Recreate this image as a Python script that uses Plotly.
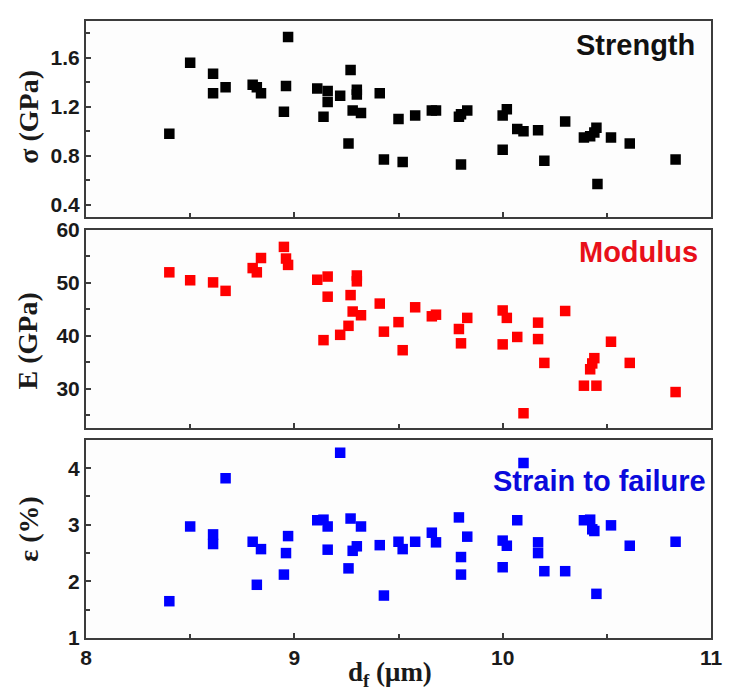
import plotly.graph_objects as go

# ---------------- data ----------------
strength_x = [8.40, 8.50, 8.61, 8.61, 8.67, 8.80, 8.82, 8.84, 8.95, 8.96, 8.97,
              9.11, 9.14, 9.16, 9.16, 9.22, 9.26, 9.27, 9.28, 9.30, 9.30, 9.32,
              9.41, 9.43, 9.50, 9.52, 9.58, 9.66, 9.68, 9.79, 9.80, 9.80, 9.83,
              10.00, 10.00, 10.02, 10.07, 10.10, 10.17, 10.20, 10.30, 10.39,
              10.42, 10.44, 10.45, 10.455, 10.52, 10.61, 10.83]
strength_y = [0.98, 1.56, 1.47, 1.31, 1.36, 1.38, 1.36, 1.31, 1.16, 1.37, 1.77,
              1.35, 1.12, 1.33, 1.24, 1.29, 0.90, 1.50, 1.17, 1.34, 1.30, 1.15,
              1.31, 0.77, 1.10, 0.75, 1.13, 1.17, 1.17, 1.12, 0.73, 1.14, 1.17,
              0.85, 1.13, 1.18, 1.02, 1.00, 1.01, 0.76, 1.08, 0.95,
              0.96, 0.99, 1.03, 0.57, 0.95, 0.90, 0.77]

modulus_x = [8.40, 8.50, 8.61, 8.67, 8.80, 8.82, 8.84, 8.95, 8.96, 8.97,
             9.11, 9.14, 9.16, 9.16, 9.22, 9.26, 9.27, 9.28, 9.30, 9.30, 9.32,
             9.41, 9.43, 9.50, 9.52, 9.58, 9.66, 9.68, 9.79, 9.80, 9.83,
             10.00, 10.00, 10.02, 10.07, 10.10, 10.17, 10.17, 10.20, 10.30,
             10.39, 10.42, 10.43, 10.44, 10.45, 10.52, 10.61, 10.83]
modulus_y = [52.0, 50.5, 50.1, 48.5, 52.8, 52.0, 54.7, 56.8, 54.6, 53.4,
             50.6, 39.2, 51.2, 47.4, 40.2, 41.9, 47.7, 44.6, 51.4, 50.3, 43.9,
             46.1, 40.8, 42.6, 37.3, 45.4, 43.7, 44.0, 41.3, 38.6, 43.4,
             44.8, 38.4, 43.4, 39.8, 25.4, 42.5, 39.4, 34.9, 44.7,
             30.6, 33.7, 34.8, 35.8, 30.6, 38.9, 34.9, 29.4]

strain_x = [8.40, 8.50, 8.61, 8.61, 8.67, 8.80, 8.82, 8.84, 8.95, 8.96, 8.97,
            9.11, 9.14, 9.16, 9.16, 9.22, 9.26, 9.27, 9.28, 9.30, 9.32,
            9.41, 9.43, 9.50, 9.52, 9.58, 9.66, 9.68, 9.79, 9.80, 9.80, 9.83,
            10.00, 10.00, 10.02, 10.07, 10.10, 10.17, 10.17, 10.20, 10.30,
            10.39, 10.42, 10.43, 10.44, 10.45, 10.52, 10.61, 10.83]
strain_y = [1.65, 2.97, 2.83, 2.66, 3.82, 2.70, 1.94, 2.57, 2.12, 2.50, 2.80,
            3.08, 3.09, 2.97, 2.56, 4.27, 2.23, 3.11, 2.54, 2.62, 2.97,
            2.64, 1.75, 2.70, 2.57, 2.70, 2.86, 2.69, 3.13, 2.43, 2.12, 2.79,
            2.72, 2.25, 2.63, 3.08, 4.09, 2.50, 2.69, 2.18, 2.18,
            3.08, 3.09, 2.92, 2.89, 1.78, 2.99, 2.63, 2.70]

x_ticks = [8, 9, 10, 11]
labels = ["Strength", "Modulus", "Strain to failure"]
y_titles = ["σ (GPa)", "E (GPa)", "ε (%)"]
colors = ["#000000", "#ff0000", "#0000ff"]
text_colors = ["#111111", "#e8101a", "#0a0adc"]

# ---------------- figure ----------------
W, H = 731, 696
ml, mr, mt, mb = 86, 13, 9, 58
pw, ph = W - ml - mr, H - mt - mb


def py(pix):
    return (H - mb - pix) / ph


def px(pix):
    return (pix - ml) / pw


fig = go.Figure()
series = [(strength_x, strength_y), (modulus_x, modulus_y), (strain_x, strain_y)]
for i, (xs, ys) in enumerate(series):
    fig.add_trace(go.Scatter(
        x=xs, y=ys, mode="markers",
        marker=dict(symbol="square", size=10.5, color=colors[i], line=dict(width=0)),
        xaxis="x" if i == 0 else f"x{i+1}",
        yaxis="y" if i == 0 else f"y{i+1}",
        showlegend=False,
    ))

frame = "#3c3c3c"
tickfont = dict(family="Arial, Liberation Sans", size=21, color="#1a1a1a", weight="bold")

domains_y = [[py(209), py(9)], [py(424), py(222)], [py(638), py(436)]]
yranges = [[0.3, 1.9], [22.6, 60], [1, 4.5]]
ytick0 = [0.4, 30, 1]
ydtick = [0.4, 10, 1]
yminor = [0.2, 5, 0.5]
yfmt = [".1f", "d", "d"]

layout = dict(
    width=W, height=H,
    margin=dict(l=ml, r=mr, t=mt, b=mb),
    paper_bgcolor="white", plot_bgcolor="#fdfdfd",
)
for i in range(3):
    xa = "xaxis" if i == 0 else f"xaxis{i+1}"
    ya = "yaxis" if i == 0 else f"yaxis{i+1}"
    yid = "y" if i == 0 else f"y{i+1}"
    xid = "x" if i == 0 else f"x{i+1}"
    layout[xa] = dict(
        domain=[0, 1], anchor=yid, range=[8, 11],
        tickvals=x_ticks, ticks="inside", ticklen=5, tickwidth=1.5, tickcolor=frame,
        minor=dict(dtick=0.5, tick0=8, ticks="inside", ticklen=4, tickcolor=frame),
        showline=True, linecolor=frame, linewidth=2, mirror=True,
        showgrid=False, zeroline=False,
        showticklabels=(i == 2), tickfont=tickfont,
    )
    if i < 2:
        layout[xa]["matches"] = "x3"
    layout[ya] = dict(
        domain=domains_y[i], anchor=xid, range=yranges[i],
        tick0=ytick0[i], dtick=ydtick[i], tickformat=yfmt[i],
        ticks="inside", ticklen=5, tickwidth=1.5, tickcolor=frame,
        minor=dict(dtick=yminor[i], ticks="inside", ticklen=4, tickcolor=frame),
        showline=True, linecolor=frame, linewidth=2, mirror=True,
        showgrid=False, zeroline=False, tickfont=tickfont,
    )
fig.update_layout(**layout)

serif = dict(family="Liberation Serif, Times New Roman", size=28, color="#1a1a1a", weight="bold")
title_centers = [107, 335, 527]
anns = []
for i in range(3):
    anns.append(dict(
        text=y_titles[i], xref="paper", yref="paper",
        x=px(27), y=py(title_centers[i]), xanchor="center", yanchor="middle",
        textangle=-90, showarrow=False, font=serif,
    ))
label_pos = [(704, 33), (707, 245), (715, 478)]
for i in range(3):
    anns.append(dict(
        text=labels[i], xref="paper", yref="paper",
        x=px(label_pos[i][0]), y=py(label_pos[i][1]),
        xanchor="right", yanchor="middle", showarrow=False,
        font=dict(family="Arial, Liberation Sans", size=29, color=text_colors[i], weight="bold"),
    ))
anns.append(dict(
    text="d<sub>f</sub> (μm)", xref="paper", yref="paper",
    x=px(393), y=py(694), xanchor="center", yanchor="bottom",
    showarrow=False, font=dict(family="Liberation Serif, Times New Roman", size=27,
                               color="#1a1a1a", weight="bold"),
))
fig.update_layout(annotations=anns)

fig.write_html("out.html")
